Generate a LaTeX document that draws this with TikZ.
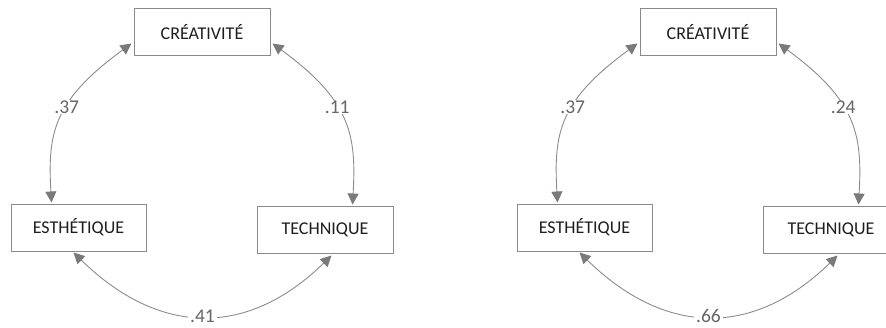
\documentclass[tikz,border=0pt]{standalone}
\usepackage{fontspec}
\setmainfont{Carlito}
\usetikzlibrary{arrows.meta}
\definecolor{boxline}{HTML}{8A8A8A}
\definecolor{arcline}{HTML}{8C8C8C}
\definecolor{tipfill}{HTML}{7A7A7A}
\definecolor{labtext}{HTML}{666666}
\definecolor{boxtext}{HTML}{1E1E1E}
\begin{document}
\begin{tikzpicture}[x=1pt,y=1pt,
  varbox/.style={draw=boxline, line width=1pt, fill=white, minimum width=136pt, minimum height=47pt, inner sep=0pt, text=boxtext, font=\fontsize{18}{20}\selectfont},
  corr/.style={draw=arcline, line width=0.9pt, {Triangle[length=11pt,width=11pt,color=tipfill,fill=tipfill]}-{Triangle[length=11pt,width=11pt,color=tipfill,fill=tipfill]}},
  corrlab/.style={fill=white, text=labtext, inner xsep=2pt, inner ysep=0.5pt, font=\fontsize{19.5}{21}\selectfont}]
\useasboundingbox (0,0) rectangle (886,327);
\clip (0,0) rectangle (886,327);
\fill[white] (0,0) rectangle (886,327);
% ---------- left model ----------
\node[varbox] (creA) at (202,294.5) {CRÉATIVITÉ};
\node[varbox, minimum width=135pt] (estA) at (78.5,99.5) {ESTHÉTIQUE};
\node[varbox] (tecA) at (325,97.5) {TECHNIQUE};
\draw[corr] ([shift={(41,1)}]estA.north west) .. controls +(-4,70) and +(-78,-57) .. ([shift={(-2,13)}]creA.south west)
  node[corrlab, pos=0.58] {.37};
\draw[corr] ([shift={(2,13)}]creA.south east) .. controls +(78,-57) and +(4,70) .. ([shift={(96,1)}]tecA.north west)
  node[corrlab, pos=0.42] {.11};
\draw[corr] ([shift={(63,-1)}]estA.south west) .. controls +(85,-83) and +(-85,-83) .. ([shift={(75,-2)}]tecA.south west)
  node[corrlab, pos=0.5] {.41};
% ---------- right model ----------
\node[varbox] (creB) at (708,294.5) {CRÉATIVITÉ};
\node[varbox, minimum width=135pt] (estB) at (584.5,99.5) {ESTHÉTIQUE};
\node[varbox] (tecB) at (831,97.5) {TECHNIQUE};
\draw[corr] ([shift={(41,1)}]estB.north west) .. controls +(-4,70) and +(-78,-57) .. ([shift={(-2,13)}]creB.south west)
  node[corrlab, pos=0.58] {.37};
\draw[corr] ([shift={(2,13)}]creB.south east) .. controls +(78,-57) and +(4,70) .. ([shift={(96,1)}]tecB.north west)
  node[corrlab, pos=0.42] {.24};
\draw[corr] ([shift={(63,-1)}]estB.south west) .. controls +(85,-83) and +(-85,-83) .. ([shift={(75,-2)}]tecB.south west)
  node[corrlab, pos=0.5] {.66};
\end{tikzpicture}
\end{document}
